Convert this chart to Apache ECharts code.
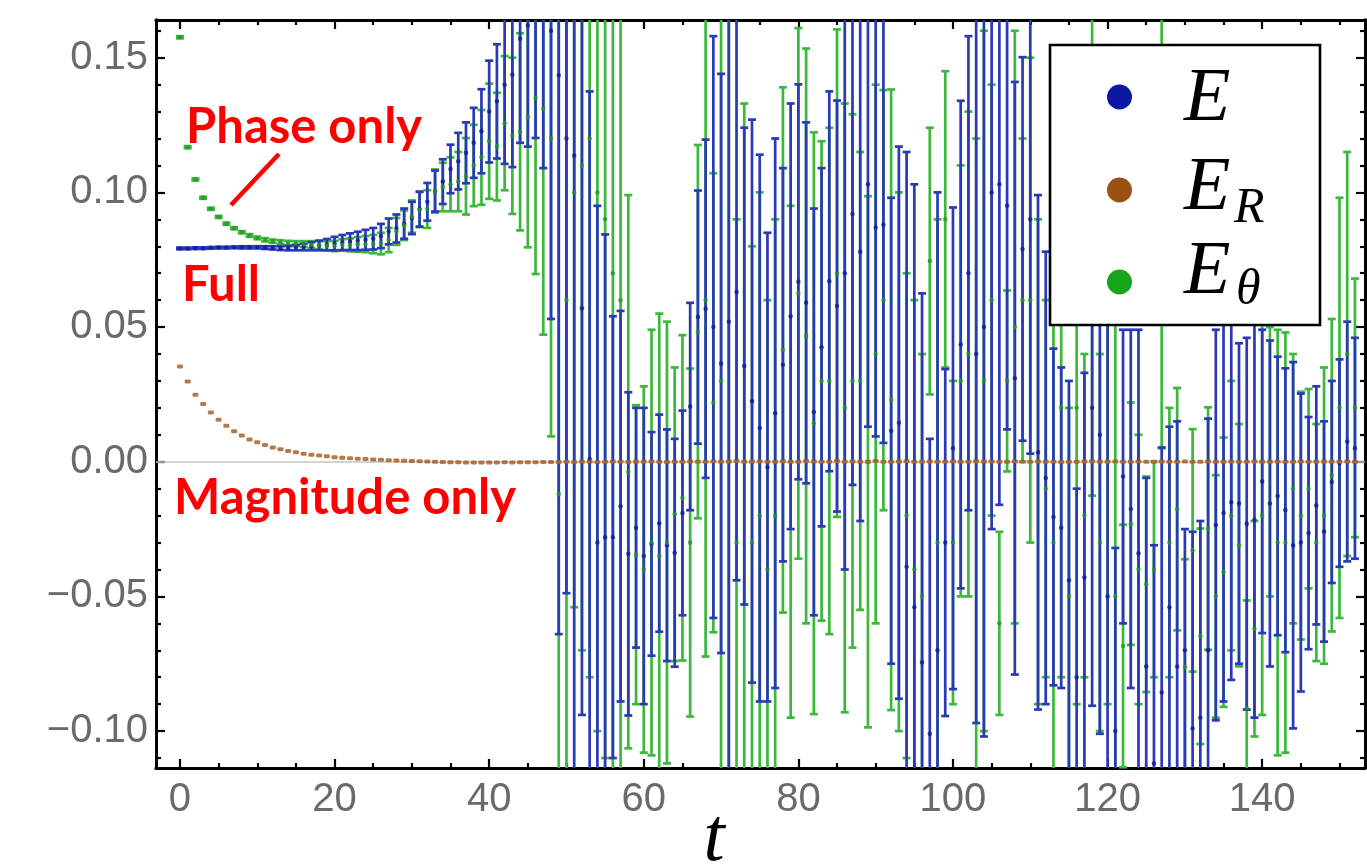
<!DOCTYPE html>
<html>
<head>
<meta charset="utf-8">
<title>E, E_R, E_θ versus t</title>
<script src="https://cdn.jsdelivr.net/npm/echarts@6/dist/echarts.min.js"></script>
<style>
  html, body { margin: 0; padding: 0; background: #ffffff; }
  #chart { width: 1367px; height: 866px; }
</style>
</head>
<body>
<div id="chart"></div>
<script>
// Energy estimates per time step t = 0, 1, 2, ...  (centre value and half-width of the error bar)

// Full estimator E
const E_MID = [
  0.0792, 0.0792, 0.0793, 0.0793, 0.0794, 0.0795, 0.0795, 0.0796, 0.0796, 0.0796,
  0.0796, 0.0795, 0.0794, 0.0793, 0.0793, 0.0795, 0.0797, 0.0800, 0.0803, 0.0806,
  0.0810, 0.0814, 0.0817, 0.0820, 0.0824, 0.0828, 0.0838, 0.0855, 0.0866, 0.0884,
  0.0905, 0.0938, 0.0965, 0.1005, 0.1040, 0.1087, 0.1116, 0.1147, 0.1184, 0.1227,
  0.1300, 0.1338, 0.1400, 0.1437, 0.1570, 0.1620, 0.1700, 0.1750, 0.1600, 0.1435,
  0.1200, 0.1137, 0.0570, 0.0010, -0.0300, -0.0280, -0.0280, -0.0165, -0.0342, -0.0245,
  -0.0350, -0.0305, -0.0228, -0.0310, -0.0338, -0.0190, 0.0205, 0.0537, 0.0568, 0.0500,
  0.0365, 0.0520, 0.0630, 0.0355, 0.0225, 0.0125, -0.0020, 0.0180, 0.0360, 0.0540,
  0.0668, 0.0590, 0.0185, 0.0425, 0.0670, 0.0578, 0.0700, 0.0920, 0.0780, 0.1030,
  0.0870, 0.0880, 0.0115, 0.0145, -0.0390, -0.0540, -0.0744, -0.1010, -0.0700, -0.0300,
  0.0050, 0.0435, 0.0700, 0.0400, 0.0500, 0.1000, 0.1030, 0.0950, 0.0310, 0.0790,
  0.0900, 0.0035, -0.0060, -0.0205, -0.0245, -0.0440, -0.0800, -0.0430, 0.0200, 0.0100,
  -0.0500, -0.1000, -0.0055, -0.0175, -0.0340, -0.0760, -0.1120, -0.0857, -0.0540, -0.0760,
  -0.0700, -0.0990, -0.0950, -0.0700, -0.0235, -0.0190, -0.0150, -0.0155, -0.0230, -0.0215,
  -0.0073, -0.0155, -0.0127, -0.0180, -0.0310, -0.0300, -0.0265, -0.0162, -0.0259, -0.0075,
  -0.0005, 0.0075, 0.0050
];
const E_ERR = [
  0.0003, 0.0003, 0.0003, 0.0003, 0.0003, 0.0003, 0.0003, 0.0003, 0.0004, 0.0004,
  0.0004, 0.0005, 0.0006, 0.0007, 0.0008, 0.0010, 0.0012, 0.0015, 0.0018, 0.0021,
  0.0025, 0.0028, 0.0031, 0.0034, 0.0037, 0.0040, 0.0045, 0.0048, 0.0052, 0.0056,
  0.0060, 0.0065, 0.0070, 0.0076, 0.0083, 0.0090, 0.0105, 0.0113, 0.0130, 0.0156,
  0.0189, 0.0212, 0.0294, 0.0343, 0.0386, 0.0450, 0.0498, 0.0660, 0.1070, 0.2075,
  0.1688, 0.2300, 0.1510, 0.1365, 0.1250, 0.1124, 0.0820, 0.0725, 0.0600, 0.0445,
  0.0550, 0.0415, 0.0403, 0.0430, 0.0423, 0.0380, 0.0385, 0.0470, 0.0628, 0.1080,
  0.1075, 0.1700, 0.1070, 0.0885, 0.1045, 0.1015, 0.0870, 0.1020, 0.0730, 0.0790,
  0.0733, 0.0670, 0.0755, 0.0665, 0.0705, 0.0763, 0.1100, 0.1006, 0.1000, 0.0900,
  0.0776, 0.0810, 0.0865, 0.1025, 0.1540, 0.1570, 0.1369, 0.1095, 0.1700, 0.0644,
  0.0894, 0.0905, 0.0880, 0.1370, 0.1520, 0.1250, 0.1190, 0.0830, 0.1100, 0.0712,
  0.0870, 0.0955, 0.0840, 0.0625, 0.0595, 0.0740, 0.0700, 0.0760, 0.1106, 0.1110,
  0.1200, 0.0680, 0.0545, 0.0665, 0.0830, 0.0700, 0.0810, 0.0910, 0.0670, 0.0910,
  0.0450, 0.0730, 0.0730, 0.0860, 0.0725, 0.0700, 0.0660, 0.0595, 0.0690, 0.0735,
  0.0563, 0.0605, 0.0517, 0.0527, 0.0680, 0.0553, 0.0431, 0.0442, 0.0409, 0.0375,
  0.0385, 0.0445, 0.0410
];

// Magnitude-only estimator E_R (its error bars are below one pixel)
const ER_MID = [
  0.0354, 0.0298, 0.0249, 0.0214, 0.0183, 0.0156, 0.0134, 0.0113, 0.0097, 0.0083,
  0.0072, 0.0062, 0.0053, 0.0046, 0.0040, 0.0035, 0.0030, 0.0026, 0.0023, 0.0020,
  0.0017, 0.0015, 0.0013, 0.0011, 0.0010, 0.0008, 0.0007, 0.0006, 0.0005, 0.0004,
  0.0003, 0.0002, 0.0001, 0.0000, -0.0001, -0.0002, -0.0002, -0.0003, -0.0003, -0.0003,
  -0.0003, -0.0003, -0.0002, -0.0003, -0.0002, -0.0002, -0.0002, -0.0001, -0.0001, -0.0001,
  0.0000, -0.0001, 0.0000, 0.0000, -0.0001, 0.0000, 0.0001, 0.0000, -0.0001, 0.0000,
  0.0000, 0.0001, 0.0000, -0.0001, 0.0000, 0.0000, 0.0001, 0.0000, 0.0000, 0.0001,
  0.0000, 0.0001, 0.0003, 0.0000, 0.0000, 0.0001, 0.0000, 0.0000, 0.0002, 0.0000,
  0.0000, 0.0003, 0.0001, 0.0000, 0.0000, 0.0003, 0.0000, 0.0001, 0.0000, 0.0000,
  0.0003, 0.0000, 0.0000, 0.0001, 0.0002, 0.0000, 0.0000, 0.0001, 0.0000, 0.0000,
  0.0001, 0.0000, 0.0000, 0.0002, 0.0000, 0.0001, 0.0000, 0.0000, 0.0001, 0.0000,
  0.0000, 0.0001, 0.0000, 0.0000, -0.0001, 0.0000, 0.0000, 0.0001, 0.0002, 0.0000,
  0.0000, 0.0001, 0.0000, 0.0000, 0.0001, 0.0000, 0.0000, 0.0001, 0.0000, 0.0000,
  0.0001, 0.0000, 0.0000, 0.0001, 0.0000, 0.0000, 0.0001, 0.0000, 0.0000, 0.0001,
  0.0000, 0.0000, 0.0001, 0.0000, 0.0000, 0.0001, 0.0000, 0.0000, 0.0001, 0.0000,
  0.0000, 0.0001, 0.0000
];

// Phase-only estimator E_θ
const ETH_MID = [
  0.1576, 0.1168, 0.1048, 0.0980, 0.0939, 0.0909, 0.0884, 0.0867, 0.0852, 0.0840,
  0.0831, 0.0824, 0.0819, 0.0815, 0.0812, 0.0810, 0.0808, 0.0806, 0.0804, 0.0802,
  0.0801, 0.0805, 0.0805, 0.0807, 0.0808, 0.0808, 0.0810, 0.0823, 0.0855, 0.0878,
  0.0910, 0.0936, 0.0938, 0.1005, 0.1020, 0.1030, 0.1040, 0.1060, 0.1100, 0.1130,
  0.1190, 0.1170, 0.1257, 0.1210, 0.1225, 0.1280, 0.1350, 0.1310, 0.1200, -0.0120,
  0.0600, 0.1000, 0.1100, 0.1200, 0.1000, 0.0900, 0.0700, 0.0600, -0.0037, -0.0345,
  -0.0400, -0.0300, -0.0350, -0.0300, -0.0195, -0.0134, -0.0300, 0.0483, 0.0600, 0.0219,
  0.0300, 0.0000, -0.0300, 0.0000, -0.0300, -0.0200, -0.0400, -0.0200, 0.0415, 0.0000,
  0.0625, 0.0467, 0.0143, 0.0300, 0.0300, 0.0700, 0.0200, 0.0300, 0.0300, 0.0000,
  0.0400, 0.0600, 0.0230, 0.0000, -0.0200, -0.0400, -0.0500, 0.0745, -0.0300, 0.0900,
  -0.0300, 0.0300, 0.0400, 0.0000, 0.0300, 0.0600, -0.0600, 0.0300, 0.0500, 0.0600,
  0.0600, 0.0000, -0.0100, -0.0300, 0.0200, -0.0500, 0.0200, -0.0200, 0.0900, -0.0300,
  0.0000, -0.0500, -0.0684, -0.0230, -0.0400, -0.0455, -0.0400, 0.0900, -0.0300, -0.0176,
  -0.0762, -0.0329, -0.0648, -0.0248, -0.0500, -0.0410, -0.0200, -0.0310, -0.0915, -0.0620,
  -0.0200, 0.0000, -0.0300, -0.0300, -0.0100, -0.0200, -0.0100, -0.0300, -0.0200, -0.0050,
  0.0200, 0.0400, 0.0200
];
const ETH_ERR = [
  0.0004, 0.0004, 0.0004, 0.0004, 0.0004, 0.0004, 0.0004, 0.0004, 0.0004, 0.0005,
  0.0005, 0.0006, 0.0006, 0.0007, 0.0008, 0.0009, 0.0011, 0.0013, 0.0015, 0.0017,
  0.0019, 0.0021, 0.0024, 0.0027, 0.0030, 0.0034, 0.0040, 0.0045, 0.0050, 0.0055,
  0.0060, 0.0065, 0.0070, 0.0080, 0.0090, 0.0100, 0.0110, 0.0142, 0.0151, 0.0176,
  0.0214, 0.0200, 0.0249, 0.0290, 0.0366, 0.0484, 0.0653, 0.0838, 0.1106, 0.1900,
  0.2000, 0.1540, 0.1800, 0.2000, 0.2000, 0.2000, 0.2000, 0.2000, 0.1027, 0.0555,
  0.0680, 0.0790, 0.0900, 0.0820, 0.0545, 0.0604, 0.0646, 0.0693, 0.1323, 0.0852,
  0.2000, 0.1700, 0.1200, 0.1330, 0.1100, 0.1200, 0.1000, 0.1100, 0.0975, 0.0950,
  0.0985, 0.1067, 0.1080, 0.0890, 0.0940, 0.0905, 0.1130, 0.0990, 0.0850, 0.0986,
  0.1000, 0.0780, 0.1152, 0.1000, 0.0900, 0.1000, 0.0900, 0.0495, 0.1200, 0.0550,
  0.0600, 0.0800, 0.0900, 0.1200, 0.1300, 0.0800, 0.0340, 0.0336, 0.1100, 0.0600,
  0.0900, 0.0900, 0.0700, 0.1100, 0.1000, 0.0700, 0.1100, 0.0600, 0.1026, 0.0700,
  0.0900, 0.1100, 0.0450, 0.0450, 0.0500, 0.0400, 0.0400, 0.0850, 0.0500, 0.0450,
  0.0400, 0.0450, 0.0400, 0.0450, 0.0450, 0.0500, 0.0500, 0.0450, 0.0400, 0.0400,
  0.0740, 0.0500, 0.0790, 0.0780, 0.0500, 0.0460, 0.0370, 0.0440, 0.0550, 0.0580,
  0.0780, 0.0750, 0.0480
];

// Axis ticks
const X_TICKS = [0, 20, 40, 60, 80, 100, 120, 140];
const X_MINOR = [5, 10, 15, 25, 30, 35, 45, 50, 55, 65, 70, 75, 85, 90, 95, 105, 110, 115, 125, 130, 135, 145, 150];
const Y_TICKS = [-0.10, -0.05, 0.00, 0.05, 0.10, 0.15];
const Y_MINOR = [-0.11, -0.09, -0.08, -0.07, -0.06, -0.04, -0.03, -0.02, -0.01,
                 0.01, 0.02, 0.03, 0.04, 0.06, 0.07, 0.08, 0.09, 0.11, 0.12, 0.13, 0.14, 0.16];

const X_RANGE = [-3.1, 153.3];
const Y_RANGE = [-0.1137, 0.164];

const COLORS = {
  eBar: '#2a39b6', eDot: '#101c9c',
  rDot: '#a4581c',
  thBar: '#3cb83c', thDot: '#1f9a22'
};

const eData = E_MID.map((m, i) => [i, m, E_ERR[i]]);
const thData = ETH_MID.map((m, i) => [i, m, ETH_ERR[i]]);
const rData = ER_MID.map((m, i) => [i, m]);

// Vertical error bar with caps, clipped to the plotting frame
function errorBars(color) {
  return function (params, api) {
    const t = api.value(0), m = api.value(1), e = api.value(2);
    const hi = api.coord([t, m + e]);
    const lo = api.coord([t, m - e]);
    const cs = params.coordSys;
    const top = cs.y, bottom = cs.y + cs.height;
    const y1 = Math.max(hi[1], top), y2 = Math.min(lo[1], bottom);
    if (y1 > y2) return;
    const x = hi[0], w = 4;
    const style = { stroke: color, lineWidth: 2.7 };
    const children = [{ type: 'line', shape: { x1: x, y1: y1, x2: x, y2: y2 }, style: style }];
    if (hi[1] >= top) children.push({ type: 'line', shape: { x1: x - w, y1: hi[1], x2: x + w, y2: hi[1] }, style: style });
    if (lo[1] <= bottom) children.push({ type: 'line', shape: { x1: x - w, y1: lo[1], x2: x + w, y2: lo[1] }, style: style });
    return { type: 'group', children: children };
  };
}

const fmtY = v => (v < -1e-9 ? '\u2212' : '') + Math.abs(v).toFixed(2);
const labelStyle = { color: '#6a6a6a', fontSize: 40, fontFamily: 'Liberation Sans, Arial, sans-serif' };
const frameLine = { show: true, onZero: false, lineStyle: { color: '#000', width: 2.8 } };

function xAxis(position, values, len, labels) {
  return {
    type: 'value', position: position, min: X_RANGE[0], max: X_RANGE[1],
    axisLine: frameLine,
    axisTick: { show: true, inside: true, length: len, customValues: values, lineStyle: { color: '#000', width: 2.2 } },
    axisLabel: labels ? Object.assign({ show: true, margin: 12, customValues: values }, labelStyle) : { show: false },
    splitLine: { show: false }
  };
}
function yAxis(position, values, len, labels) {
  return {
    type: 'value', position: position, min: Y_RANGE[0], max: Y_RANGE[1],
    axisLine: frameLine,
    axisTick: { show: true, inside: true, length: len, customValues: values, lineStyle: { color: '#000', width: 2.2 } },
    axisLabel: labels ? Object.assign({ show: true, margin: 8, customValues: values, formatter: fmtY }, labelStyle) : { show: false },
    splitLine: { show: false }
  };
}

const serifItalic = 'italic 400 76px "Liberation Serif", "DejaVu Serif", serif';
const serifSub = 'italic 400 50px "Liberation Serif", "DejaVu Serif", serif';
const redFont = 'bold 49px Lato, "Open Sans", sans-serif';

const option = {
  animation: false,
  backgroundColor: '#ffffff',
  grid: { left: 156, right: 2, top: 20, bottom: 98, containLabel: false },
  xAxis: [
    xAxis('bottom', X_TICKS, 9, true),
    xAxis('bottom', X_MINOR, 5, false),
    xAxis('top', X_TICKS, 9, false),
    xAxis('top', X_MINOR, 5, false)
  ],
  yAxis: [
    yAxis('left', Y_TICKS, 9, true),
    yAxis('left', Y_MINOR, 5, false),
    yAxis('right', Y_TICKS, 9, false),
    yAxis('right', Y_MINOR, 5, false)
  ],
  series: [
    {
      name: 'E_θ bars', type: 'custom', z: 1,
      renderItem: errorBars(COLORS.thBar), data: thData,
      encode: { x: 0, y: 1 },
      markLine: {
        silent: true, symbol: ['none', 'none'], label: { show: false },
        lineStyle: { color: '#c4c4c4', width: 1.6, type: 'solid' },
        data: [{ yAxis: 0 }]
      }
    },
    {
      name: 'E bars', type: 'custom', z: 2,
      renderItem: errorBars(COLORS.eBar), data: eData,
      encode: { x: 0, y: 1 }
    },
    {
      name: 'E', type: 'scatter', z: 3, data: eData.map(d => [d[0], d[1]]),
      symbol: 'circle', symbolSize: 4.5, itemStyle: { color: COLORS.eDot }
    },
    {
      name: 'E_θ', type: 'scatter', z: 4, data: thData.map(d => [d[0], d[1]]),
      symbol: 'circle', symbolSize: 4.5, itemStyle: { color: COLORS.thDot }
    },
    {
      name: 'E_R', type: 'scatter', z: 5, data: rData,
      symbol: 'roundRect', symbolSize: [6, 4], itemStyle: { color: COLORS.rDot }
    }
  ],
  graphic: [
    // legend
    { type: 'rect', z: 20, shape: { x: 1050, y: 45, width: 270, height: 280 },
      style: { fill: '#ffffff', stroke: '#000000', lineWidth: 2.6 } },
    { type: 'circle', z: 21, shape: { cx: 1119.5, cy: 97, r: 12.5 }, style: { fill: '#0c17a3' } },
    { type: 'circle', z: 21, shape: { cx: 1119.5, cy: 190, r: 12.5 }, style: { fill: '#9c5012' } },
    { type: 'circle', z: 21, shape: { cx: 1119.5, cy: 282, r: 12.5 }, style: { fill: '#19a51b' } },
    { type: 'text', z: 21, style: { text: 'E', x: 1184, y: 100, font: serifItalic, fill: '#000', verticalAlign: 'middle' } },
    { type: 'text', z: 21, style: { text: 'E', x: 1184, y: 189, font: serifItalic, fill: '#000', verticalAlign: 'middle' } },
    { type: 'text', z: 21, style: { text: 'R', x: 1234, y: 209, font: serifSub, fill: '#000', verticalAlign: 'middle' } },
    { type: 'text', z: 21, style: { text: 'E', x: 1184, y: 273, font: serifItalic, fill: '#000', verticalAlign: 'middle' } },
    { type: 'text', z: 21, style: { text: 'θ', x: 1236, y: 291, font: serifSub, fill: '#000', verticalAlign: 'middle' } },
    // axis title
    { type: 'text', z: 21, style: { text: 't', x: 714, y: 840, font: 'italic 400 76px "Liberation Serif", serif', fill: '#000', align: 'center', verticalAlign: 'middle' } },
    // annotations
    { type: 'text', z: 22, style: { text: 'Phase only', x: 186, y: 127, font: redFont, fill: '#ff0000', verticalAlign: 'middle' } },
    { type: 'line', z: 22, shape: { x1: 231, y1: 205, x2: 279, y2: 154 }, style: { stroke: '#ff0000', lineWidth: 4.5 } },
    { type: 'text', z: 22, style: { text: 'Full', x: 182, y: 285, font: redFont, fill: '#ff0000', verticalAlign: 'middle' } },
    { type: 'text', z: 22, style: { text: 'Magnitude only', x: 174, y: 498, font: redFont, fill: '#ff0000', verticalAlign: 'middle' } }
  ]
};

const chart = echarts.init(document.getElementById('chart'), null, { renderer: 'canvas' });
chart.setOption(option);
</script>
</body>
</html>
